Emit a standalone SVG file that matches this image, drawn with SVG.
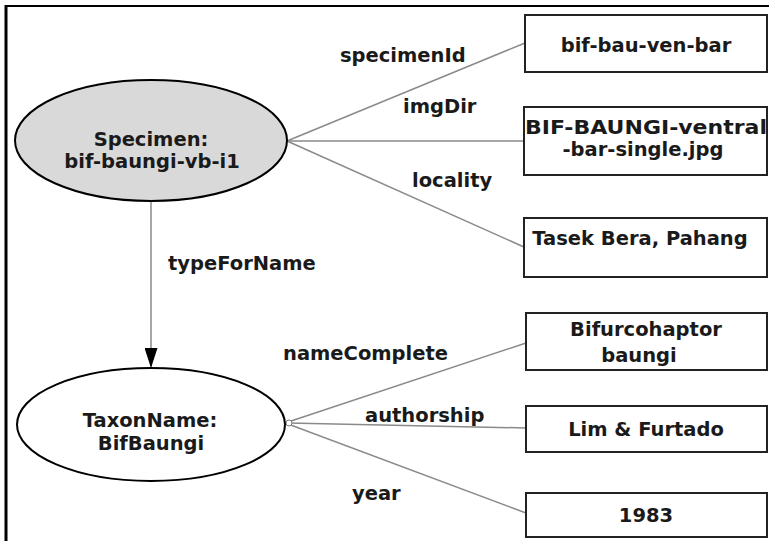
<svg xmlns="http://www.w3.org/2000/svg" width="769" height="541" viewBox="0 0 769 541">
<style>
text{font-family:"DejaVu Sans",Verdana,sans-serif;font-weight:bold;font-size:19.5px;fill:#1a1a1a}
.c{text-anchor:middle}
.box{fill:#fff;stroke:#222;stroke-width:2}
.edge{stroke:#8a8a8a;stroke-width:1.5;fill:none}
</style>
<defs>
<marker id="arr" markerWidth="20" markerHeight="13" refX="20" refY="6.5" orient="auto" markerUnits="userSpaceOnUse" viewBox="0 0 20 13">
<path d="M0,0 L20,6.5 L0,13 Z" fill="#000"/>
</marker>
</defs>
<rect width="769" height="541" fill="#fff"/>
<g id="frame" stroke="#000" fill="none">
<line x1="5" y1="6" x2="769" y2="6" stroke-width="2"/>
<line x1="6" y1="5" x2="6" y2="541" stroke-width="3"/>
</g>
<g id="connectors">
<line class="edge" x1="151" y1="201" x2="151" y2="368" marker-end="url(#arr)"/>
<line class="edge" x1="287" y1="141" x2="525" y2="43"/>
<line class="edge" x1="287" y1="141" x2="524" y2="141"/>
<line class="edge" x1="287" y1="141" x2="524" y2="247"/>
<line class="edge" x1="288" y1="422" x2="526" y2="343"/>
<line class="edge" x1="288" y1="423" x2="526" y2="428"/>
<line class="edge" x1="288" y1="424" x2="526" y2="513"/>
<circle cx="289" cy="423" r="3" fill="#fff" stroke="#777" stroke-width="1"/>
<text x="340" y="62">specimenId</text>
<text x="403" y="113">imgDir</text>
<text x="412" y="187">locality</text>
<text x="168" y="270">typeForName</text>
<text x="283" y="360">nameComplete</text>
<text x="365" y="422">authorship</text>
<text x="352" y="500">year</text>
</g>
<g id="specimen">
<ellipse cx="151" cy="140.5" rx="136" ry="60.5" fill="#d9d9d9" stroke="#000" stroke-width="2"/>
<text class="c" x="151" y="146">Specimen:</text>
<text class="c" x="152" y="168">bif-baungi-vb-i1</text>
</g>
<g id="taxonname">
<ellipse cx="151" cy="424.5" rx="134" ry="56.5" fill="#fff" stroke="#000" stroke-width="2"/>
<text class="c" x="150" y="427">TaxonName:</text>
<text class="c" x="151" y="450">BifBaungi</text>
</g>
<g id="specimenId">
<rect class="box" x="525" y="15" width="242" height="57"/>
<text class="c" x="646" y="52">bif-bau-ven-bar</text>
</g>
<g id="imgDir">
<rect class="box" x="524" y="107" width="243" height="68"/>
<text class="c" x="646" y="134" textLength="242" lengthAdjust="spacingAndGlyphs">BIF-BAUNGI-ventral</text>
<text class="c" x="643" y="156">-bar-single.jpg</text>
</g>
<g id="locality">
<rect class="box" x="524" y="218" width="243" height="59"/>
<text class="c" x="640" y="245">Tasek Bera, Pahang</text>
</g>
<g id="nameComplete">
<rect class="box" x="526" y="313" width="241" height="57"/>
<text class="c" x="646" y="336">Bifurcohaptor</text>
<text class="c" x="639" y="362">baungi</text>
</g>
<g id="authorship">
<rect class="box" x="526" y="406" width="241" height="46"/>
<text class="c" x="646" y="436">Lim &amp; Furtado</text>
</g>
<g id="year">
<rect class="box" x="526" y="493" width="241" height="44"/>
<text class="c" x="646" y="522">1983</text>
</g>
</svg>
